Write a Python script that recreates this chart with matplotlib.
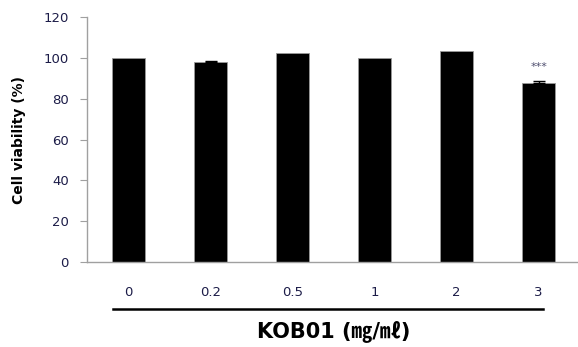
import matplotlib
matplotlib.use("Agg")
import matplotlib.pyplot as plt

categories = ["0", "0.2", "0.5", "1", "2", "3"]
viability = [100.0, 97.8, 102.2, 99.7, 103.3, 87.5]
errors = [0.0, 0.8, 0.0, 0.0, 0.0, 1.3]
significance = ["", "", "", "", "", "***"]

plt.rcParams['font.family'] = ['DejaVu Sans', 'Noto Sans CJK KR']

fig = plt.figure(figsize=(5.78, 3.47), dpi=100)
W, H = 578, 347
ax = fig.add_axes([87 / W, 1 - 262 / H, (578 - 87) / W, (262 - 17) / H])

x = list(range(len(categories)))
ax.bar(x, viability, width=0.4, color='black', edgecolor='#9a9a9a', linewidth=0.6, zorder=2)
ex = [xi for xi, e in zip(x, errors) if e > 0]
ev = [v for v, e in zip(viability, errors) if e > 0]
ee = [e for e in errors if e > 0]
ax.errorbar(ex, ev, yerr=[[0] * len(ee), ee], fmt='none', ecolor='black',
            elinewidth=1.0, capsize=4, capthick=1.0, zorder=3)
for xi, v, e, s in zip(x, viability, errors, significance):
    if s:
        ax.text(xi, v + e + 6.5, s, ha='center', va='center', fontsize=8, color='#505070')

ax.set_xlim(-0.51, 5.48)
ax.set_ylim(0, 120)
ax.set_yticks(range(0, 121, 20))
ax.set_xticks(x)
ax.set_xticklabels(categories)

for sp in ['top', 'right']:
    ax.spines[sp].set_visible(False)
for sp in ['left', 'bottom']:
    ax.spines[sp].set_color('#a0a0a0')
    ax.spines[sp].set_linewidth(1.0)

ax.tick_params(axis='y', length=5, color='#a0a0a0', labelsize=9.5, labelcolor='#1c1c48', pad=8)
ax.tick_params(axis='x', length=0, labelsize=9.5, labelcolor='#1c1c48', pad=17)

ax.set_ylabel("Cell viability (%)", fontsize=10, fontweight='bold', labelpad=13)

# underline bar beneath tick labels
ax.plot([-0.19, 5.05], [-0.192, -0.192], transform=ax.get_xaxis_transform(),
        color='black', linewidth=1.8, clip_on=False)

fig.text((252 + 415) / 2 / W, 1 - 331 / H, "KOB01 (㎎/㎖)", ha='center', va='center',
         fontsize=15, fontweight='bold', color='black')

fig.savefig("out.png", dpi=100)
